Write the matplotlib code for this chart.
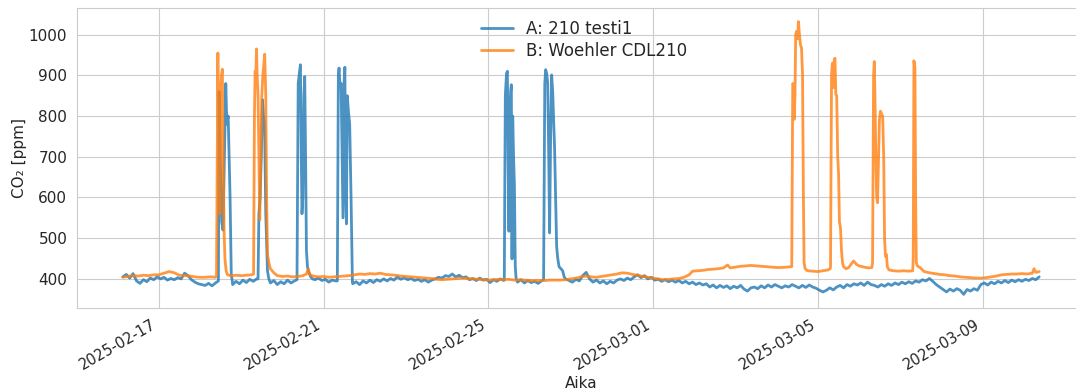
import matplotlib
matplotlib.use("Agg")
import matplotlib.pyplot as plt
import matplotlib.dates as mdates
import seaborn as sns
import pandas as pd

# Hours since 2025-02-16 00:00 and CO2 readings (ppm)
a_hours = [3, 5, 7, 9, 11, 13, 15, 17, 19, 21, 23, 25, 27, 29, 31, 33, 35, 37, 39, 41, 43, 45, 47, 49, 51, 53, 55, 57,
           58.7, 59.1, 59.8, 60.6, 61.4, 62.2, 63.0, 63.6, 64.4, 65.5, 66.2, 66.8,
           67, 69, 71, 73, 75, 77, 79, 81,
           81.8, 82.3, 83.0, 83.7, 84.4, 85.0, 85.6, 86.3, 87.3, 88.1,
           89, 91, 93, 95, 97, 99, 101, 103,
           104.5, 105.2, 106.0, 106.5, 107.0, 107.4, 107.9, 108.5, 109.0, 109.5, 110.0, 110.6, 111.5, 112.5, 113.5,
           115, 117, 119, 121, 123, 125, 127,
           128.0, 128.6, 129.0, 129.6, 130.2, 130.8, 131.3, 131.9, 132.4, 132.9, 133.3, 133.8, 134.5, 135.2, 136.0, 136.8,
           137, 139, 141, 143, 145, 147, 149, 151, 153, 155, 157, 159, 161, 163, 165, 167, 169, 171, 173, 175, 177,
           179, 181, 183, 185, 187, 189, 191, 193, 195, 197, 199, 201, 203, 205, 207, 209, 211, 213, 215, 217, 219,
           221, 223, 225,
           225.3, 225.9, 226.6, 227.1, 227.5, 228.0, 228.5, 229.0, 229.4, 229.8, 230.2, 230.7, 231.2, 231.7, 232.2,
           233, 235, 237, 239, 241, 243, 245, 247,
           248.2, 248.9, 249.4, 250.0, 250.6, 251.2, 251.7, 252.3, 252.9, 253.5, 254.0, 254.6, 255.2, 255.8, 256.4,
           257.2, 258.3, 259.3, 260.2, 261.0,
           263, 265, 267, 269, 271, 273, 275, 277, 279, 281, 283, 285, 287, 289, 291, 293, 295, 297, 299, 301, 303,
           305, 307, 309, 311, 313, 315, 317, 319, 321, 323, 325, 327, 329, 331, 333, 335, 337, 339, 341, 343, 345,
           347, 349, 351, 353, 355, 357, 359, 361, 363, 365, 367, 369, 371, 373, 375, 377, 379, 381, 383, 385, 387,
           389, 391, 393, 395, 397, 399, 401, 403, 405, 407, 409, 411, 413, 415, 417, 419, 421, 423, 425, 427, 429,
           431, 433, 435, 437, 439, 441, 443, 445, 447, 449, 451, 453, 455, 457, 459, 461, 463, 465, 467, 469, 471,
           473, 475, 477, 479, 481, 483, 485, 487, 489, 491, 493, 495, 497, 499, 501, 503, 505, 507, 509, 511, 513,
           515, 517, 519, 521, 523, 525, 527, 529, 531, 533, 535, 537]
a_ppm = [405, 411, 402, 413, 395, 389, 398, 393, 402, 398, 405, 400, 404, 397, 401, 398, 403, 400, 414, 408, 398, 392, 388, 386, 384, 389, 383, 390,
         395, 860, 700, 540, 520, 700, 880, 780, 800, 600, 410, 395,
         386, 394, 388, 397, 391, 399, 394, 400,
         400, 560, 600, 700, 840, 800, 780, 560, 420, 400,
         390, 396, 386, 393, 388, 397, 390, 395,
         398, 880, 910, 926, 700, 560, 600, 850, 897, 700, 470, 430, 415, 405, 400,
         398, 402, 396, 399, 392, 397, 395,
         395, 900, 918, 870, 880, 700, 550, 880, 920, 600, 535, 850, 810, 780, 600, 391,
         388, 393, 386, 395, 390, 397, 391, 398, 394, 400, 395, 401, 397, 405, 399, 403, 398, 401, 396, 399, 394,
         398, 392, 397, 400, 404, 402, 408, 406, 412, 405, 409, 403, 405, 398, 401, 396, 402, 397, 399, 391, 398,
         394, 400, 396,
         398, 850, 905, 910, 700, 517, 800, 860, 877, 449, 800, 700, 630, 430, 400,
         392, 398, 390, 396, 391, 394, 389, 395,
         398, 880, 914, 905, 880, 700, 513, 750, 901, 860, 800, 722, 600, 480, 452,
         430, 425, 420, 405, 400,
         396, 392, 399, 395, 408, 416, 400, 392, 397, 390, 395, 388, 394, 390, 397, 400, 396, 402, 398, 405, 410,
         403, 408, 400, 404, 397, 399, 394, 398, 393, 397, 392, 396, 390, 394, 388, 392, 386, 390, 385, 388, 380,
         385, 378, 384, 379, 383, 376, 382, 378, 384, 375, 370, 378, 380, 376, 383, 378, 385, 380, 386, 382, 378,
         383, 380, 386, 382, 378, 384, 379, 385, 380, 377, 372, 368, 372, 378, 373, 380, 384, 378, 386, 382, 388,
         385, 390, 384, 392, 386, 384, 380, 386, 382, 388, 384, 390, 386, 392, 388, 393, 389, 395, 392, 398, 395,
         401, 394, 386, 380, 374, 368, 375, 370, 376, 372, 362, 374, 370, 376, 372, 386, 390, 385, 392, 388, 394,
         390, 396, 391, 397, 393, 398, 394, 399, 396, 401, 398, 405]

b_hours = [3, 6, 9, 12, 15, 18, 21, 24, 27, 30, 33, 36, 39, 42, 45, 48, 51, 54, 57,
           57.6, 58.0, 58.4, 58.8, 59.2, 59.6, 60.0, 60.5, 61.0, 61.5, 62.0, 62.5, 63.2, 64.0,
           66, 69, 72, 75, 78,
           79.2, 79.7, 80.1, 80.5, 80.9, 81.3, 81.8, 82.3, 82.8, 83.4, 84.0, 84.6, 85.2, 85.7, 86.3, 86.8, 87.3,
           88.1, 89.0, 91.0,
           93, 96, 99, 102, 105, 108, 110, 111, 112, 114, 117, 120, 123, 126, 129, 132, 135, 138, 141, 144, 147,
           150, 153, 156, 159, 162, 165, 168, 171, 174, 177, 180, 183, 186, 189, 192, 195, 198, 201, 204, 207,
           210, 213, 216, 219, 222, 225, 228, 231, 234, 237, 240, 243, 246, 249, 252, 255, 258, 261, 264, 267,
           270, 273, 276, 279, 282, 285, 288, 291, 294, 297, 300, 303, 306, 309, 312, 315, 318, 321, 324, 327,
           330, 333, 335, 338, 341, 344, 347, 350, 353, 355.4, 357, 360, 363, 366, 369, 372, 375, 378, 381, 384,
           387, 390, 392.5,
           392.8, 393.4, 393.8, 394.2, 394.7, 395.1, 395.6, 396.2, 396.7, 397.3, 397.9, 398.5, 399.1, 399.6,
           400.0, 400.6, 402, 405, 408, 411, 414, 415.2,
           415.4, 416.0, 416.5, 417.0, 417.5, 418.0, 418.5, 419.0, 419.6, 420.1, 420.6, 421.2, 421.8, 422.4,
           423.0, 424.5, 426.0, 428.8, 430.5, 432, 434, 436, 438, 439.5,
           439.9, 440.5, 440.9, 441.3, 441.8, 442.3, 442.8, 443.4, 443.9, 444.5, 445.2, 445.8, 446.4, 446.9,
           447.4, 448.0, 448.5, 449.5, 452, 455, 458, 461, 463.3,
           463.6, 464.0, 464.6, 465.0, 465.4, 466.0, 467.5,
           470, 473, 476, 479, 482, 485, 488, 491, 494, 497, 500, 503, 506, 509, 512, 515, 518, 521, 524, 527,
           530, 533, 534, 535, 537]
b_ppm = [404, 406, 408, 407, 409, 408, 410, 410, 414, 418, 415, 409, 408, 407, 405, 404, 404, 405, 404,
         410, 700, 955, 600, 880, 560, 870, 900, 915, 700, 520, 450, 420, 410,
         408, 409, 408, 409, 410,
         412, 800, 910, 900, 965, 900, 850, 700, 545, 700, 850, 900, 930, 952, 850, 600, 460,
         440, 425, 415,
         408, 406, 407, 405, 406, 408, 412, 424, 410, 407, 405, 406, 404, 405, 406, 407, 408, 410, 412, 411, 413,
         412, 414, 411, 410, 409, 407, 406, 405, 404, 403, 402, 401, 399, 398, 399, 400, 401, 402, 401, 400,
         399, 398, 397, 398, 399, 398, 399, 397, 398, 397, 396, 396, 396, 396, 397, 397, 397, 398, 400, 402,
         405, 407, 405, 404, 406, 408, 410, 412, 415, 414, 411, 409, 406, 404, 402, 400, 398, 399, 400, 401,
         404, 410, 419, 420, 421, 423, 424, 425, 427, 434, 427, 429, 431, 432, 433, 432, 431, 430, 429, 428,
         428, 429, 430,
         430, 880, 877, 792, 850, 1000, 1008, 990, 1032, 1000, 975, 967, 900, 600,
         440, 425, 420, 419, 418, 420, 422, 425,
         430, 900, 930, 870, 935, 942, 853, 850, 700, 657, 540, 526, 470, 440,
         430, 425, 428, 444, 436, 432, 430, 428, 427, 428,
         440, 900, 934, 850, 700, 600, 587, 700, 790, 812, 805, 800, 700, 500,
         456, 460, 430, 422, 420, 419, 420, 419, 420,
         450, 936, 920, 600, 440, 432, 428,
         418, 415, 413, 411, 410, 408, 407, 405, 404, 403, 402, 402, 403, 405, 407, 410, 411, 412, 412, 413,
         412, 414, 425, 416, 418]

series_labels = ["A: 210 testi1", "B: Woehler CDL210"]
start = pd.Timestamp("2025-02-16 00:00")

sns.set_style("whitegrid")
plt.rcParams["font.family"] = ["DejaVu Sans"]

fig = plt.figure(figsize=(10.76, 3.92), dpi=100)
ax = fig.add_axes([77 / 1076, 84 / 392, 1008 / 1076, 300 / 392])

a_time = start + pd.to_timedelta(a_hours, unit="h")
b_time = start + pd.to_timedelta(b_hours, unit="h")
ax.plot(a_time, a_ppm, color="#1f77b4", alpha=0.8, lw=2.0, label=series_labels[0])
ax.plot(b_time, b_ppm, color="#ff7f0e", alpha=0.8, lw=2.0, label=series_labels[1])

ax.xaxis.set_major_locator(mdates.DayLocator(bymonthday=[1, 5, 9, 13, 17, 21, 25, 29]))
ax.xaxis.set_major_formatter(mdates.DateFormatter("%Y-%m-%d"))
for lab in ax.get_xticklabels():
    lab.set_rotation(30)
    lab.set_ha("right")
ax.tick_params(axis="x", labelsize=10.5, pad=3)
ax.tick_params(axis="y", labelsize=11)
ax.set_xlabel("Aika", fontsize=11, labelpad=2)
ax.set_ylabel("CO₂ [ppm]", fontsize=11, labelpad=1)
ax.legend(loc="upper center", frameon=False, fontsize=12, labelspacing=0.25,
          borderaxespad=0.3, handlelength=1.9, bbox_to_anchor=(0.503, 1.0))

fig.savefig("out.png", dpi=100)
